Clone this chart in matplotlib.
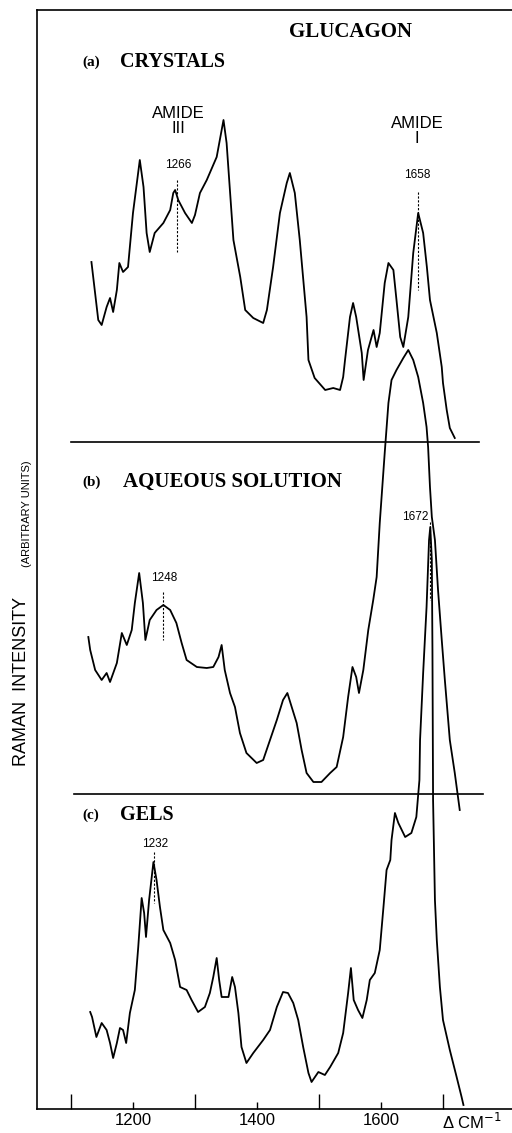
import matplotlib
matplotlib.use("Agg")
import matplotlib.pyplot as plt
import numpy as np

# ---------------- data ----------------
# (a) crystals: wavenumber (cm-1) and intensity above its own baseline (arb. units)
wn_a = [1133, 1144, 1149.5, 1157.5, 1163, 1168, 1174, 1178, 1184, 1192, 1200, 1211, 1217, 1222,
        1227, 1235, 1249, 1260, 1265, 1268, 1273, 1284, 1295, 1300, 1308, 1319, 1335, 1346, 1351,
        1362, 1373, 1381, 1394, 1410, 1416, 1426, 1437, 1448, 1453, 1461, 1469, 1480, 1483, 1493,
        1510, 1523, 1534, 1539, 1542, 1550, 1555, 1560, 1569, 1572, 1579, 1588, 1593, 1598, 1606,
        1612, 1620, 1625, 1631, 1636, 1644, 1652, 1660, 1668, 1674, 1679, 1690, 1698, 1700, 1706,
        1711, 1719]
int_a = [180, 122, 117, 135, 144, 130, 152, 179, 170, 175, 229, 282, 255, 209,
         190, 209, 219, 232, 249, 252, 242, 229, 219, 227, 249, 262, 285, 322, 299,
         202, 165, 132, 124, 119, 132, 175, 229, 259, 269, 249, 202, 125, 82, 64,
         52, 54, 52, 65, 82, 125, 139, 125, 89, 62, 92, 112, 95, 109, 159,
         179, 172, 142, 105, 95, 125, 189, 229, 209, 175, 142, 109, 75, 59, 32,
         14, 4]

# (b) aqueous solution
wn_b = [1128, 1131, 1139, 1149.5, 1157.5, 1163, 1174, 1182, 1190, 1198, 1203, 1210, 1216, 1220,
        1227, 1238, 1249, 1260, 1270, 1278.5, 1286.5, 1303, 1319, 1329.5, 1338, 1343, 1348,
        1356.5, 1364.5, 1372.5, 1383, 1399.5, 1410, 1421, 1432, 1442, 1449, 1456, 1464, 1472,
        1480, 1491, 1504, 1518, 1528.5, 1539, 1547, 1554, 1560, 1564.5, 1571.5, 1579.5, 1587.5,
        1593, 1598, 1606, 1612, 1617, 1625, 1636, 1644, 1652, 1660, 1668, 1673.5, 1676, 1679,
        1682, 1687, 1692, 1698, 1703, 1711, 1719, 1727]
int_b = [157, 144, 124, 114, 121, 112, 131, 161, 149, 164, 191, 221, 191, 154,
         174, 184, 189, 184, 171, 151, 134, 127, 126, 127, 137, 149, 124,
         101, 87, 61, 41, 31, 34, 54, 74, 94, 101, 87, 71, 44,
         21, 12, 12, 21, 27, 57, 97, 127, 117, 101, 124, 164, 194,
         217, 271, 341, 391, 414, 424, 436, 444, 434, 417, 391, 367, 347, 307,
         277, 254, 204, 154, 114, 54, 21, -16]

# (c) gels
wn_c = [1131, 1134, 1141, 1149.5, 1157.5, 1163, 1168, 1174, 1179, 1184, 1189, 1195, 1203, 1208.5,
        1214, 1218, 1221, 1226, 1233, 1238, 1243.5, 1249, 1260, 1268, 1276, 1286.5, 1294.5, 1305,
        1316, 1324, 1329.5, 1335, 1339, 1343, 1354, 1360, 1364.5, 1370, 1375, 1383, 1394, 1410,
        1421, 1432, 1442, 1450, 1458.5, 1466.5, 1474.5, 1483, 1488, 1499, 1509.5, 1518, 1531,
        1539, 1547, 1551.5, 1556, 1563, 1570, 1577, 1582, 1590, 1598, 1604, 1609, 1615, 1617,
        1622.5, 1628, 1639, 1649, 1657, 1662, 1663, 1668, 1673.5, 1677.5, 1679.5, 1682, 1683,
        1684, 1685, 1687, 1690, 1695, 1700, 1711, 1722, 1730, 1733]
int_c = [97, 92, 72, 86, 79, 66, 51, 66, 81, 79, 66, 96, 119, 162,
         211, 196, 172, 209, 247, 229, 202, 179, 166, 149, 122, 119, 109, 97,
         102, 116, 132, 151, 129, 112, 112, 132, 122, 96, 62, 46, 56, 69,
         79, 102, 117, 116, 106, 89, 62, 36, 27, 37, 34, 42, 56,
         76, 116, 141, 109, 99, 91, 109, 129, 136, 159, 202, 239, 249, 269,
         296, 286, 272, 276, 292, 329, 369, 436, 502, 569, 582, 549, 459,
         309, 276, 209, 169, 122, 89, 59, 32, 12, 4]

panel_labels = ["(a)", "(b)", "(c)"]
panel_names = ["CRYSTALS", "AQUEOUS SOLUTION", "GELS"]
peak_labels = ["1266", "1658", "1248", "1672", "1232"]
x_major = [1200, 1400, 1600]
x_major_labels = ["1200", "1400", "1600"]
x_minor = [1100, 1300, 1500, 1700]

# ---------------- layout ----------------
W, H = 512, 1133
fig = plt.figure(figsize=(W / 100, H / 100), dpi=100)
ax = fig.add_axes([37 / W, (H - 1109) / H, (W - 37) / W, (1109 - 10) / H])
ax.set_xlim(1045.2, 1811.3)
ax.set_ylim(0, 1099)

off_a, off_b, off_c = 667, 315, 0
lw = 1.3
ax.plot(wn_a, np.array(int_a) + off_a, color="black", lw=lw)
ax.plot(wn_b, np.array(int_b) + off_b, color="black", lw=lw)
ax.plot(wn_c, np.array(int_c) + off_c, color="black", lw=lw)

# baselines of stacked spectra
ax.plot([1100, 1758], [off_a, off_a], color="black", lw=1.2)
ax.plot([1104.8, 1764.5], [off_b, off_b], color="black", lw=1.2)

ax.spines["right"].set_visible(False)
for s in ["left", "bottom", "top"]:
    ax.spines[s].set_linewidth(1.2)

ax.set_yticks([])
ax.set_xticks(x_major)
ax.set_xticklabels(x_major_labels)
ax.set_xticks(x_minor, minor=True)
ax.tick_params(axis="x", which="major", direction="in", length=5, width=1, pad=3,
               labelsize=12)
ax.tick_params(axis="x", which="minor", direction="in", length=11, width=1)
for lab in ax.get_xticklabels():
    lab.set_family("Liberation Sans")

serif = "Liberation Serif"
sans = "Liberation Sans"

ax.text(1551.6, 1077, "GLUCAGON", ha="center", va="center", fontsize=15,
        family=serif, fontweight="bold")

pan_y = [1047, 627, 294]
name_x = [1179, 1183.9, 1179]
name_size = [14.5, 15, 14.5]
for lbl, name, y, nx, fs in zip(panel_labels, panel_names, pan_y, name_x, name_size):
    ax.text(1117.7, y, lbl, ha="left", va="center", fontsize=11, family=serif,
            fontweight="bold")
    ax.text(nx, y, name, ha="left", va="center", fontsize=fs, family=serif,
            fontweight="bold")

ax.text(1272.6, 988, "AMIDE\nIII", ha="center", va="center", fontsize=12, family=sans,
        linespacing=1.05)
ax.text(1658, 978, "AMIDE\nI", ha="center", va="center", fontsize=12, family=sans,
        linespacing=1.05)

lab_xy = [(1272.6, 944), (1658, 934), (1250, 531), (1654.8, 592), (1235.5, 265)]
for t, (x, y) in zip(peak_labels, lab_xy):
    ax.text(x, y, t, ha="center", va="center", fontsize=8.5, family=sans)

markers = [(1271, 929, 857), (1660, 917, 819), (1249, 517, 469), (1679, 587, 509),
           (1234, 257, 206)]
for x, y0, y1 in markers:
    ax.plot([x, x], [y0, y1], color="black", lw=0.8, ls=(0, (2, 1.5)))

fig.text(472 / W, 1 - 1122 / H, "Δ CM$^{-1}$", ha="center", va="center", fontsize=12,
         family=sans)
fig.text(22 / W, 1 - 681 / H, "RAMAN  INTENSITY", rotation=90, ha="center", va="center",
         fontsize=13, family=sans)
fig.text(27 / W, 1 - 514 / H, "(ARBITRARY UNITS)", rotation=90, ha="center", va="center",
         fontsize=8, family=sans)

fig.savefig("out.png", dpi=100)
